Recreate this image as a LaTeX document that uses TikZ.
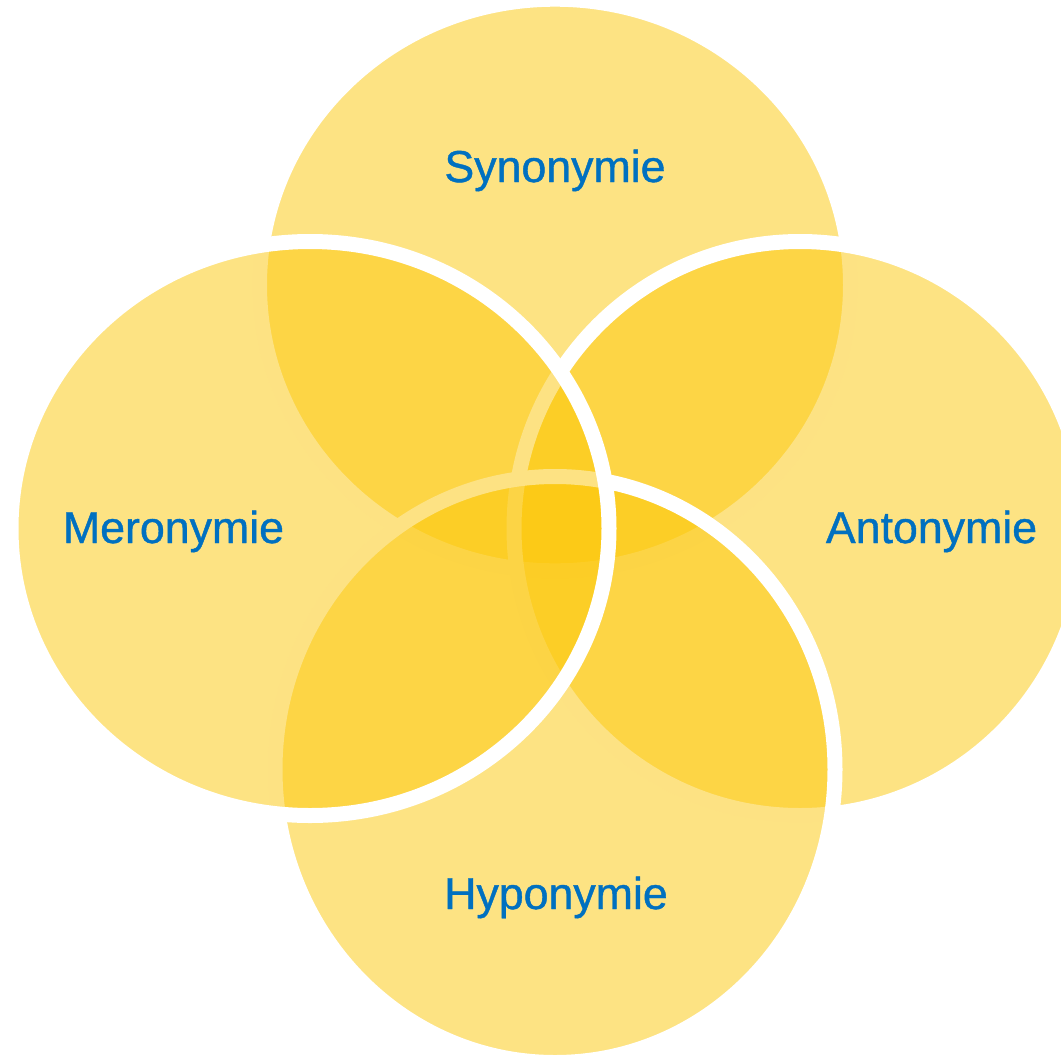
\documentclass[tikz,border=0pt]{standalone}
\usepackage{fontspec}
\setmainfont{Liberation Sans}
\newfontfamily\labfont[BoldFont={Liberation Sans}, BoldFeatures={FakeBold=0.9}]{Liberation Sans}
\definecolor{venn}{RGB}{252,199,8}
\definecolor{lbl}{RGB}{0,112,192}
\tikzset{
  vennset/.style={fill=venn, fill opacity=0.5, draw=white, draw opacity=1, line width=15pt},
  lab/.style={text=lbl, font=\labfont\bfseries\fontsize{44.7}{50}\selectfont, inner sep=0pt, anchor=base}
}
\begin{document}
\begin{tikzpicture}[x=1pt,y=-1pt]
\useasboundingbox (0,0) rectangle (1061,1058);
\clip (0,0) rectangle (1061,1058);
% drawing order: top, right, bottom, left
\path[vennset] (555,285) ellipse [x radius=295.5, y radius=285.8];
\path[vennset] (800,528.5) ellipse [x radius=286, y radius=287];
\path[vennset] (555,769.5) ellipse [x radius=280, y radius=293];
\path[vennset] (310,528.5) ellipse [x radius=299, y radius=287];
\node[lab] (syn) at (555,182) {Synonymie};
\node[lab] (mer) at (173.5,543) {Meronymie};
\node[lab] (ant) at (931.5,543) {Antonymie};
\node[lab] (hyp) at (556,909) {Hyponymie};
\end{tikzpicture}
\end{document}
